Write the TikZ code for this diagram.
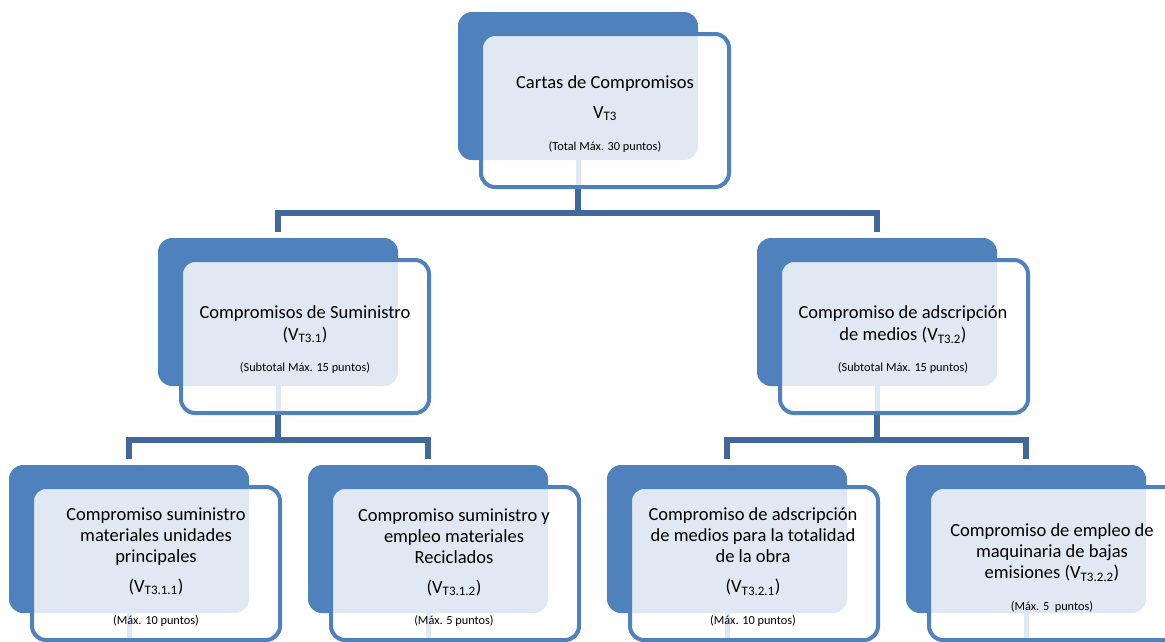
\documentclass[tikz,border=0pt]{standalone}
\usepackage{fontspec}
\setmainfont{Carlito}
\definecolor{bk}{RGB}{79,129,189}
\definecolor{cn}{RGB}{64,104,155}
\definecolor{tx}{RGB}{224,232,243}
\pgfdeclarelayer{bg}
\pgfsetlayers{bg,main}
\tikzset{
  backbox/.style={draw=none, fill=bk, rounded corners=14pt, minimum width=240pt, minimum height=148pt, anchor=north west, inner sep=0pt, outer sep=0pt},
  frontbox/.style={draw=none, fill=white, minimum width=248pt, minimum height=153pt, anchor=north west, inner sep=0pt, outer sep=0pt},
  frontborder/.style={draw=bk, line width=4pt, rounded corners=14pt},
  texture/.style={fill=tx},
  conn/.style={draw=cn, line width=6pt},
  maintext/.style={align=center, font=\fontsize{18.5}{21}\selectfont, inner sep=0pt, text=black},
  smalltext/.style={font=\fontsize{12.3}{14}\selectfont, inner sep=0pt, text=black},
}
\newcommand\mkbox[3]{%
  \node[backbox] (#1b) at (#2,#3) {};
  \node[frontbox, rounded corners=14pt] (#1) at (#2+23,#3+22) {};
  \begin{scope}
    \clip[rounded corners=12pt] (#1.north west) rectangle (#1.south east);
    \fill[texture, rounded corners=14pt] (#1b.north west) rectangle (#1b.south east);
    \fill[texture] ([xshift=-2.5pt]#1b.south) rectangle ([xshift=2.5pt]#1b.south |- #1.south);
  \end{scope}
  \draw[frontborder] (#1.north west) rectangle (#1.south east);
}
\begin{document}
\begin{tikzpicture}[x=1pt,y=-1pt]
\useasboundingbox (0,0) rectangle (1165,641);
\clip (0,0) rectangle (1165,641);
% boxes
\mkbox{T}{458}{12}
\mkbox{A}{158}{238}
\mkbox{B}{757}{238}
\mkbox{C}{9}{465}
\mkbox{D}{308}{465}
\mkbox{E}{607}{465}
\mkbox{F}{906}{465}
% bus coordinates
\coordinate (bus1) at (0,213);
\coordinate (bus2) at (0,440);
\begin{pgfonlayer}{bg}
  \fill[white] (0,0) rectangle (1165,641);
  \draw[conn] (Tb.south) -- (Tb.south |- bus1);
  \draw[conn] ([yshift=6pt]Ab.north) -- (Ab.north |- bus1) -- (Bb.north |- bus1) -- ([yshift=6pt]Bb.north);
  \draw[conn] (Ab.south) -- (Ab.south |- bus2);
  \draw[conn] ([yshift=6pt]Cb.north) -- (Cb.north |- bus2) -- (Db.north |- bus2) -- ([yshift=6pt]Db.north);
  \draw[conn] (Bb.south) -- (Bb.south |- bus2);
  \draw[conn] ([yshift=6pt]Eb.north) -- (Eb.north |- bus2) -- (Fb.north |- bus2) -- ([yshift=6pt]Fb.north);
\end{pgfonlayer}
% texts
\node[maintext] (Tt) at (605,98) {Cartas de Compromisos\\[9pt]V\textsubscript{T3}};
\node[smalltext] (Ts) at (605,147) {(Total Máx. 30 puntos)};
\node[maintext] (At) at (305,324) {Compromisos de Suministro\\[1pt](V\textsubscript{T3.1})};
\node[smalltext] (As) at (305,368) {(Subtotal Máx. 15 puntos)};
\node[maintext] (Bt) at (903,324.5) {Compromiso de adscripción\\[1pt]de medios (V\textsubscript{T3.2})};
\node[smalltext] (Bs) at (903,368) {(Subtotal Máx. 15 puntos)};
\node[maintext] (Ct) at (156,551) {Compromiso suministro\\materiales unidades\\principales\\[9pt](V\textsubscript{T3.1.1})};
\node[smalltext] (Cs) at (156,621) {(Máx. 10 puntos)};
\node[maintext] (Dt) at (454,552) {Compromiso suministro y\\empleo materiales\\Reciclados\\[9pt](V\textsubscript{T3.1.2})};
\node[smalltext] (Ds) at (454,621) {(Máx. 5 puntos)};
\node[maintext] (Et) at (753,551.5) {Compromiso de adscripción\\de medios para la totalidad\\de la obra\\[9pt](V\textsubscript{T3.2.1})};
\node[smalltext] (Es) at (753,621) {(Máx. 10 puntos)};
\node[maintext] (Ft) at (1052,552.5) {Compromiso de empleo de\\maquinaria de bajas\\emisiones (V\textsubscript{T3.2.2})};
\node[smalltext] (Fs) at (1052,607) {(Máx. 5~~puntos)};
\end{tikzpicture}
\end{document}
